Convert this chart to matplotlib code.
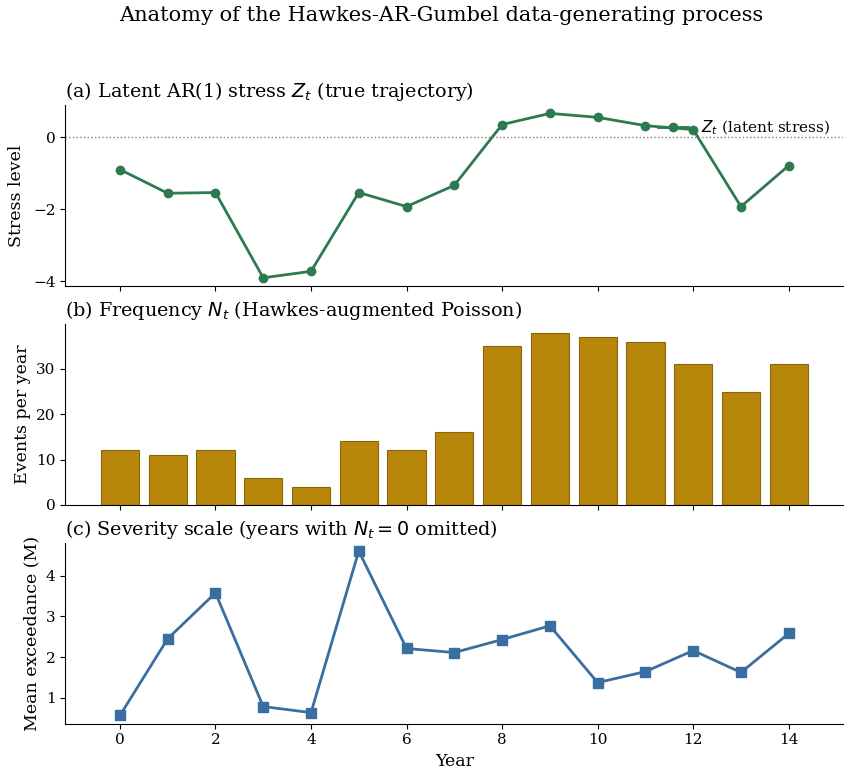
import numpy as np
import matplotlib.pyplot as plt
from matplotlib.ticker import MultipleLocator

plt.rcParams['font.family'] = 'DejaVu Serif'
plt.rcParams['axes.spines.top'] = False
plt.rcParams['axes.spines.right'] = False

years = np.arange(15)
z_latent = [-0.89, -1.55, -1.53, -3.90, -3.72, -1.53, -1.92, -1.33,
            0.36, 0.67, 0.56, 0.33, 0.22, -1.92, -0.78]
n_events = [12, 11, 12, 6, 4, 14, 12, 16, 35, 38, 37, 36, 31, 25, 31]
severity = [0.56, 2.45, 3.58, 0.78, 0.63, 4.61, 2.21, 2.11, 2.43, 2.77,
            1.37, 1.64, 2.16, 1.62, 2.58]

fig, axes = plt.subplots(3, 1, figsize=(8.5, 7.79), sharex=True)
fig.subplots_adjust(left=0.077, right=0.992, top=0.865, bottom=0.071, hspace=0.21)
fig.suptitle('Anatomy of the Hawkes-AR-Gumbel data-generating process',
             fontsize=15, x=0.519, y=0.992)

ax = axes[0]
ax.plot(years, z_latent, color='#2e7a4f', marker='o', lw=2, ms=6,
        label=r'$Z_t$ (latent stress)')
ax.axhline(0, color='grey', ls=':', lw=1)
ax.yaxis.set_major_locator(MultipleLocator(2))
ax.set_ylabel('Stress level', fontsize=12.5, labelpad=6)
ax.set_title(r'(a) Latent AR(1) stress $Z_t$ (true trajectory)', loc='left', fontsize=13.8)
ax.legend(loc='upper right', frameon=False, fontsize=11)

ax = axes[1]
ax.bar(years, n_events, width=0.8, color='#b8860b', edgecolor='#8a6508', lw=0.8)
ax.set_ylabel('Events per year', fontsize=12.5)
ax.set_title(r'(b) Frequency $N_t$ (Hawkes-augmented Poisson)', loc='left', fontsize=13.8)

ax = axes[2]
ax.plot(years, severity, color='#3a6ea0', marker='s', lw=2, ms=7)
ax.set_ylabel('Mean exceedance (M)', fontsize=12.5)
ax.set_xlabel('Year', fontsize=12.5)
ax.set_title(r'(c) Severity scale (years with $N_t = 0$ omitted)', loc='left', fontsize=13.8)

for a in axes:
    a.tick_params(labelsize=11)

fig.savefig('out.png', dpi=100)
